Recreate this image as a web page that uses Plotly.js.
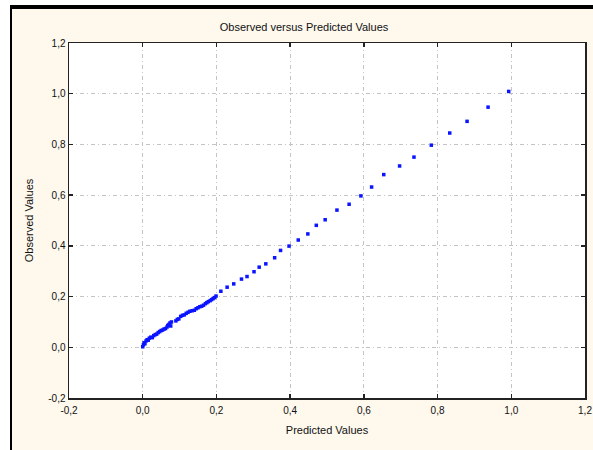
<!DOCTYPE html>
<html>
<head>
<meta charset="utf-8">
<script src="https://cdn.plot.ly/plotly-3.0.1.min.js"></script>
<style>
  html, body { margin: 0; padding: 0; background: #ffffff; }
  #chart { width: 593px; height: 450px; }
</style>
</head>
<body>
<div id="chart"></div>
<script>
// Predicted vs observed values for the fitted model
const predicted = [
  0.000, 0.002, 0.004, 0.006, 0.009, 0.012, 0.015, 0.018, 0.022, 0.026,
  0.030, 0.034, 0.038, 0.042, 0.046, 0.050, 0.054, 0.058, 0.062, 0.066,
  0.068, 0.071, 0.074, 0.076, 0.078, 0.090, 0.094, 0.098, 0.103, 0.108,
  0.113, 0.118, 0.123, 0.128, 0.134, 0.140, 0.145, 0.150, 0.155, 0.160,
  0.165, 0.170, 0.174, 0.178, 0.183, 0.187, 0.191, 0.195, 0.199,
  0.212, 0.229, 0.247, 0.268, 0.283, 0.302, 0.316, 0.334, 0.358, 0.374,
  0.397, 0.422, 0.448, 0.471, 0.495, 0.527, 0.560, 0.592, 0.621, 0.654,
  0.697, 0.736, 0.783, 0.833, 0.880, 0.937, 0.993
];
const observed = [
  0.002, 0.010, 0.018, 0.014, 0.025, 0.030, 0.028, 0.036, 0.040, 0.038,
  0.046, 0.050, 0.052, 0.058, 0.062, 0.066, 0.068, 0.072, 0.074, 0.080,
  0.086, 0.090, 0.096, 0.084, 0.100, 0.104, 0.110, 0.112, 0.122, 0.126,
  0.128, 0.134, 0.138, 0.142, 0.144, 0.146, 0.152, 0.156, 0.160, 0.162,
  0.166, 0.172, 0.176, 0.180, 0.184, 0.188, 0.192, 0.196, 0.202,
  0.221, 0.237, 0.250, 0.269, 0.279, 0.298, 0.316, 0.329, 0.353, 0.382,
  0.399, 0.423, 0.447, 0.481, 0.503, 0.541, 0.564, 0.597, 0.632, 0.681,
  0.715, 0.750, 0.797, 0.845, 0.891, 0.947, 1.009
];

const tickVals = [-0.2, 0.0, 0.2, 0.4, 0.6, 0.8, 1.0, 1.2];
const tickText = ['-0,2', '0,0', '0,2', '0,4', '0,6', '0,8', '1,0', '1,2'];

const W = 593, H = 450;
const M = { l: 69, r: 8, t: 43, b: 52 };
const plotW = W - M.l - M.r, plotH = H - M.t - M.b;
// convert pixel positions to paper coordinates for the frame decoration
const px = x => (x - M.l) / plotW;
const py = y => (H - M.b - y) / plotH;

const FONT = 'Liberation Sans, Arial, sans-serif';

const axisBase = {
  range: [-0.2, 1.2],
  tickvals: tickVals,
  ticktext: tickText,
  ticks: 'inside',
  ticklen: 4,
  tickwidth: 1.5,
  tickcolor: '#222',
  showline: true,
  linecolor: '#222',
  linewidth: 1.5,
  mirror: 'ticks',
  showgrid: true,
  gridcolor: '#c4c4c4',
  gridwidth: 1,
  griddash: '4px,3px,1px,3px',
  zeroline: false,
  tickfont: { family: FONT, size: 10, color: '#111' },
  fixedrange: true
};

const trace = {
  type: 'scatter',
  mode: 'markers',
  x: predicted,
  y: observed,
  marker: { symbol: 'square', size: 3.5, color: '#0a14ff', line: { width: 0 } },
  hoverinfo: 'x+y'
};

const layout = {
  width: W,
  height: H,
  margin: M,
  paper_bgcolor: '#fef8ed',
  plot_bgcolor: '#ffffff',
  showlegend: false,
  title: {
    text: 'Observed versus Predicted Values',
    font: { family: FONT, size: 11, color: '#111' },
    x: 304 / W, xanchor: 'center',
    y: 1 - 27 / H, yanchor: 'middle'
  },
  xaxis: Object.assign({}, axisBase, {
    ticklabelstandoff: 2,
    title: { text: 'Predicted Values', font: { family: FONT, size: 11, color: '#111' }, standoff: 12 }
  }),
  yaxis: Object.assign({}, axisBase, {
    title: { text: 'Observed Values', font: { family: FONT, size: 11, color: '#111' }, standoff: 12 }
  }),
  shapes: [
    // white margin above and left of the frame
    { type: 'rect', xref: 'paper', yref: 'paper', x0: px(-2), x1: px(W + 2), y0: py(5), y1: py(-2),
      fillcolor: '#ffffff', line: { width: 0 }, layer: 'above' },
    { type: 'rect', xref: 'paper', yref: 'paper', x0: px(-2), x1: px(10), y0: py(H + 2), y1: py(-2),
      fillcolor: '#ffffff', line: { width: 0 }, layer: 'above' },
    // black frame edges
    { type: 'rect', xref: 'paper', yref: 'paper', x0: px(10), x1: px(W + 2), y0: py(9), y1: py(5),
      fillcolor: '#000000', line: { width: 0 }, layer: 'above' },
    { type: 'rect', xref: 'paper', yref: 'paper', x0: px(10), x1: px(12), y0: py(H + 2), y1: py(5),
      fillcolor: '#000000', line: { width: 0 }, layer: 'above' }
  ]
};

Plotly.newPlot('chart', [trace], layout, { staticPlot: true, displayModeBar: false });
</script>
</body>
</html>
